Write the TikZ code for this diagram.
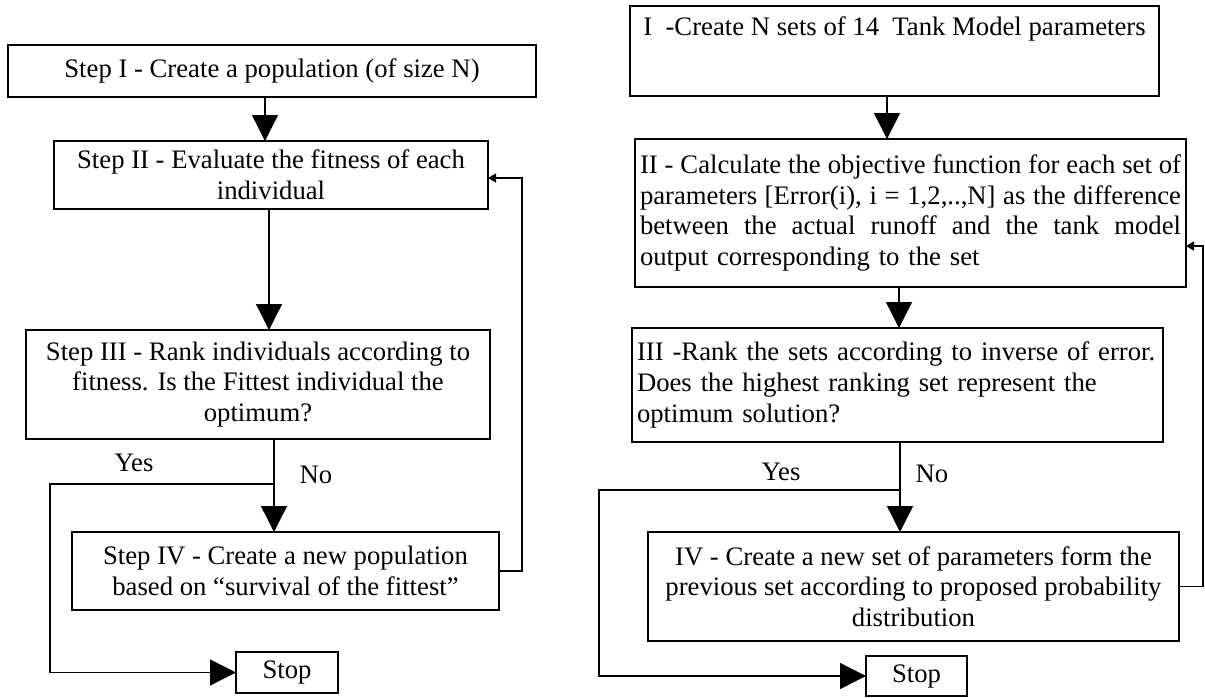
\documentclass[tikz,border=0pt]{standalone}
\usepackage{fontspec}
\setmainfont{Liberation Serif}
\usetikzlibrary{arrows.meta}
\newcommand{\jline}[1]{\leavevmode\hbox to 541pt{\spaceskip=0.25em plus 1fil\relax #1}}
\begin{document}
\begin{tikzpicture}[x=1pt,y=-1pt,
  box/.style={draw, line width=1.8pt, inner sep=0pt, outer sep=0pt, font=\fontsize{26.7}{30.7}\selectfont, align=center},
  conn/.style={line width=1.3pt},
  bigarr/.style={conn, -{Triangle[width=26pt,length=26pt]}},
  smallarr/.style={conn, -{Triangle[width=9pt,length=8pt]}},
  lbl/.style={font=\fontsize{26.7}{30.7}\selectfont, inner sep=0pt}]
\useasboundingbox (0,0) rectangle (1205,697);
% ---------- left flowchart ----------
\node[box, minimum width=528pt, minimum height=52pt] (L1) at (272,71) {Step I - Create a population (of size N)};
\node[box, minimum width=434pt, minimum height=68pt] (L2) at (271,175) {Step II - Evaluate the fitness of each\\individual};
\node[box, minimum width=464pt, minimum height=109pt] (L3) at (258,384.5) {Step III - Rank individuals according to\\fitness. Is the Fittest individual the\\optimum?};
\node[box, minimum width=427pt, minimum height=78pt] (L4) at (285.5,571) {Step IV - Create a new population\\based on “survival of the fittest”};
\node[box, line width=1.5pt, minimum width=102pt, minimum height=41pt] (LS) at (287,672.5) {Stop};
\draw[bigarr] ([xshift=-7pt]L1.south) -- ([xshift=-7pt]L1.south |- L2.north);
\draw[bigarr] ([xshift=-2pt]L2.south) -- ([xshift=-2pt]L2.south |- L3.north);
\draw[bigarr] ([xshift=16pt]L3.south) -- ([xshift=16pt]L3.south |- L4.north);
\coordinate (LYes) at (274,484);
\coordinate (LYesL) at (50,484);
\draw[bigarr] (LYes) -- (LYesL) |- (LS.west);
\coordinate (LFb) at (522,178);
\draw[smallarr] (L4.east) -| (LFb) -- (LFb -| L2.east);
\node[lbl] (LYesT) at (134,462.5) {Yes};
\node[lbl] (LNoT) at (316,475) {No};
% ---------- right flowchart ----------
\node[box, minimum width=529pt, minimum height=90pt] (R1) at (894.5,51) {I\ \ -Create N sets of 14\ \ Tank Model parameters\\[20pt]\mbox{}};
\node[box, minimum width=551pt, minimum height=148pt, text width=541pt, align=left] (R2) at (910.5,213) {\jline{II - Calculate the objective function for each set of}\\\jline{parameters [Error(i), i = 1,2,..,N] as the difference}\\\jline{between the actual runoff and the tank model}\\output corresponding to the set};
\node[box, minimum width=531pt, minimum height=114pt, text width=521pt, align=left] (R3) at (897.5,385) {III -Rank the sets according to inverse of error.\\Does the highest ranking set represent the\\optimum solution?};
\node[box, minimum width=531pt, minimum height=109pt] (R4) at (913.5,586.5) {IV - Create a new set of parameters form the\\previous set according to proposed probability\\distribution};
\node[box, line width=1.5pt, minimum width=101pt, minimum height=40pt] (RS) at (916.5,676) {Stop};
\draw[bigarr] ([xshift=-7.5pt]R1.south) -- ([xshift=-7.5pt]R1.south |- R2.north);
\draw[bigarr] ([xshift=-11.5pt]R2.south) -- ([xshift=-11.5pt]R2.south |- R3.north);
\draw[bigarr] ([xshift=2.5pt]R3.south) -- ([xshift=2.5pt]R3.south |- R4.north);
\coordinate (RYes) at (900,490);
\coordinate (RYesL) at (599,490);
\draw[bigarr] (RYes) -- (RYesL) |- (RS.west);
\coordinate (RFb) at (1203,246);
\draw[smallarr] (R4.east) -| (RFb) -- (RFb -| R2.east);
\node[lbl] (RYesT) at (781,471.5) {Yes};
\node[lbl] (RNoT) at (932,473.5) {No};
\end{tikzpicture}
\end{document}
